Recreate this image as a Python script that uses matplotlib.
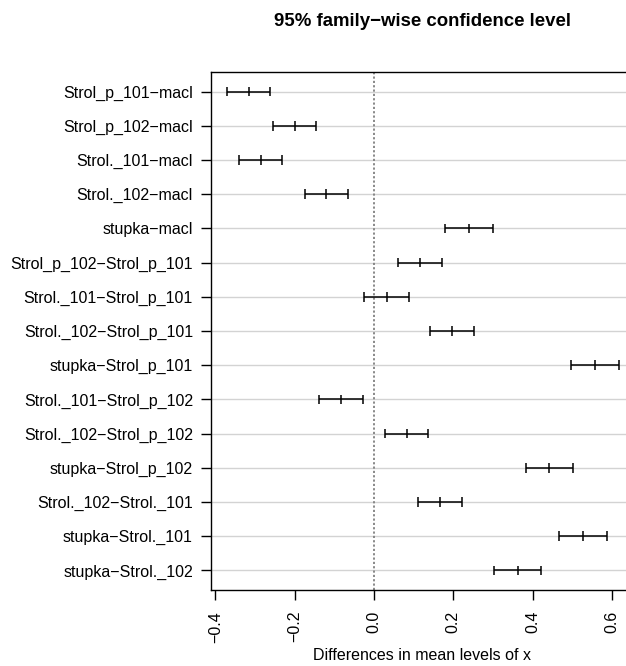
import matplotlib
matplotlib.use("Agg")
import matplotlib.pyplot as plt

comparisons = [
    "Strol_p_101\u2212macl", "Strol_p_102\u2212macl", "Strol._101\u2212macl",
    "Strol._102\u2212macl", "stupka\u2212macl", "Strol_p_102\u2212Strol_p_101",
    "Strol._101\u2212Strol_p_101", "Strol._102\u2212Strol_p_101",
    "stupka\u2212Strol_p_101", "Strol._101\u2212Strol_p_102",
    "Strol._102\u2212Strol_p_102", "stupka\u2212Strol_p_102",
    "Strol._102\u2212Strol._101", "stupka\u2212Strol._101", "stupka\u2212Strol._102",
]
diff = [-0.316, -0.200, -0.286, -0.120, 0.240, 0.117, 0.032, 0.197,
        0.557, -0.084, 0.082, 0.442, 0.1665, 0.527, 0.362]
lwr = [-0.371, -0.255, -0.340, -0.175, 0.180, 0.061, -0.024, 0.142,
       0.497, -0.139, 0.027, 0.382, 0.112, 0.467, 0.302]
upr = [-0.261, -0.147, -0.231, -0.066, 0.2995, 0.171, 0.087, 0.2515,
       0.617, -0.029, 0.136, 0.5015, 0.221, 0.5865, 0.421]
x_ticks = [-0.4, -0.2, 0.0, 0.2, 0.4, 0.6]
x_ticklabels = ["\u22120.4", "\u22120.2", "0.0", "0.2", "0.4", "0.6"]

plt.rcParams["font.family"] = ["Liberation Sans", "DejaVu Sans"]

fig = plt.figure(figsize=(6.26, 6.66), dpi=100)
ax = fig.add_axes([211 / 626, 1 - 590 / 666, (633 - 211) / 626, (590 - 72) / 666])

n = len(comparisons)
ypos = list(range(n, 0, -1))

for y in ypos:
    ax.axhline(y, color="#d3d3d3", lw=1.0, zorder=1)

ax.axvline(0, color="#808080", lw=1.3, ls=(0, (1.2, 1.2)), zorder=2)

for y, lo, hi, d in zip(ypos, lwr, upr, diff):
    ax.plot([lo, hi], [y, y], color="black", lw=1.1, zorder=3,
            solid_capstyle="butt")
    for xv in (lo, d, hi):
        ax.plot([xv, xv], [y - 0.14, y + 0.14], color="black", lw=1.1,
                zorder=3, solid_capstyle="butt")

ax.set_xlim(-0.411, 0.653)
ax.set_ylim(0.43, n + 0.57)
ax.set_yticks(ypos)
ax.set_yticklabels(comparisons, fontsize=11.5)
ax.set_xticks(x_ticks)
ax.set_xticklabels(x_ticklabels, fontsize=11.5, rotation=90)
ax.tick_params(axis="y", direction="out", length=7, width=1, color="black",
               pad=6)
ax.tick_params(axis="x", direction="out", length=7, width=1, color="black",
               pad=8)
for side in ("left", "bottom", "top", "right"):
    ax.spines[side].set_linewidth(1.0)
    ax.spines[side].set_color("black")

fig.text(422 / 626, 1 - 656 / 666, "Differences in mean levels of x",
         ha="center", va="center", fontsize=11.5)
fig.text(422 / 626, 1 - 21 / 666, "95% family\u2212wise confidence level",
         ha="center", va="center", fontsize=13.4, fontweight="bold")

fig.savefig("out.png", dpi=100)
